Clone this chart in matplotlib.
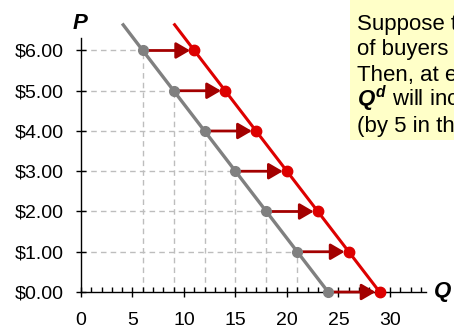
import matplotlib
matplotlib.use('Agg')
from matplotlib import pyplot
from matplotlib.patches import Rectangle
import matplotlib.ticker as ticker

pyplot.rcParams['font.family'] = 'Liberation Sans'
pyplot.rcParams['mathtext.fontset'] = 'custom'
pyplot.rcParams['mathtext.it'] = 'Liberation Sans:italic:bold'
pyplot.rcParams['mathtext.rm'] = 'Liberation Sans'

# demand schedule before and after the increase in buyers
prices = [6, 5, 4, 3, 2, 1, 0]
qd_old = [6, 9, 12, 15, 18, 21, 24]
qd_new = [11, 14, 17, 20, 23, 26, 29]
# where the curves start above the $6 row
line_top_p = 6.67
old_top_q = 4
new_top_q = 9

y_ticks = [0, 1, 2, 3, 4, 5, 6]
y_labels = ['$0.00', '$1.00', '$2.00', '$3.00', '$4.00', '$5.00', '$6.00']
x_ticks = [0, 5, 10, 15, 20, 25, 30]

note_lines = ['Suppose the number',
              'of buyers increases.',
              'Then, at each P,',
              r'$Q^d$ will increase',
              '(by 5 in this example).']

grey = '#808080'
red = '#dd0000'
dark_red = '#a30000'
grid_col = '#bdbdbd'

W, H = 454, 331
fig = pyplot.figure(figsize=(W / 100, H / 100), dpi=100)

# yellow note box, runs off the top right
fig.patches.append(Rectangle((350 / W, 1 - 140 / H), 120 / W, 150 / H,
                             transform=fig.transFigure, facecolor='#ffffc8',
                             edgecolor='none', zorder=0))
for i, line in enumerate(note_lines):
    fig.text(357 / W, 1 - (30 + i * 25.5) / H, line, fontsize=16,
             va='baseline', ha='left', zorder=1)

ax = fig.add_axes([81 / W, 39 / H, 345 / W, 271.7 / H])
ax.set_xlim(0, 33.5)
ax.set_ylim(0, 6.75)
ax.patch.set_alpha(0)

for s in ['top', 'right']:
    ax.spines[s].set_visible(False)
ax.spines['left'].set_bounds(0, 6.3)
ax.spines['left'].set_linewidth(1)
ax.spines['bottom'].set_linewidth(1)

# dashed guides from the axes to the original points
for q, p in zip(qd_old, prices):
    if p > 0:
        ax.plot([0, q], [p, p], ls=(0, (4, 3)), color=grid_col, lw=1, zorder=1)
        ax.plot([q, q], [0, p], ls=(0, (4, 3)), color=grid_col, lw=1, zorder=1)

ax.plot([old_top_q] + qd_old, [line_top_p] + prices, color=grey, lw=2.4,
        zorder=3, clip_on=False, solid_capstyle='butt')
ax.plot([new_top_q] + qd_new, [line_top_p] + prices, color=red, lw=2.2,
        zorder=3, clip_on=False, solid_capstyle='butt')

for q0, q1, p in zip(qd_old, qd_new, prices):
    ax.annotate('', xy=(q1, p), xytext=(q0, p),
                arrowprops=dict(arrowstyle='-|>,head_length=0.6,head_width=0.35',
                                color=dark_red, lw=2.0, shrinkA=4, shrinkB=3,
                                mutation_scale=14),
                zorder=4, annotation_clip=False)

ax.plot(qd_old, prices, 'o', color=grey, ms=7, zorder=5, clip_on=False)
ax.plot(qd_new, prices, 'o', color=red, ms=7.5, zorder=5, clip_on=False)

ax.yaxis.set_major_locator(ticker.FixedLocator(y_ticks))
ax.set_yticklabels(y_labels)
ax.xaxis.set_major_locator(ticker.FixedLocator(x_ticks))
ax.xaxis.set_minor_locator(ticker.MultipleLocator(1))
ax.tick_params(axis='y', which='major', direction='inout', length=7.2,
               width=1, pad=9, labelsize=14)
ax.tick_params(axis='x', which='major', direction='inout', length=7.2,
               width=1, pad=10.5, labelsize=14)
ax.tick_params(axis='x', which='minor', direction='in', length=3.5, width=1)

fig.text(80 / W, 1 - 23.5 / H, 'P', fontsize=16, fontweight='bold',
         style='italic', ha='center', va='center')
fig.text(443 / W, 1 - 291 / H, 'Q', fontsize=16, fontweight='bold',
         style='italic', ha='center', va='center')

fig.savefig('out.png', dpi=100)
